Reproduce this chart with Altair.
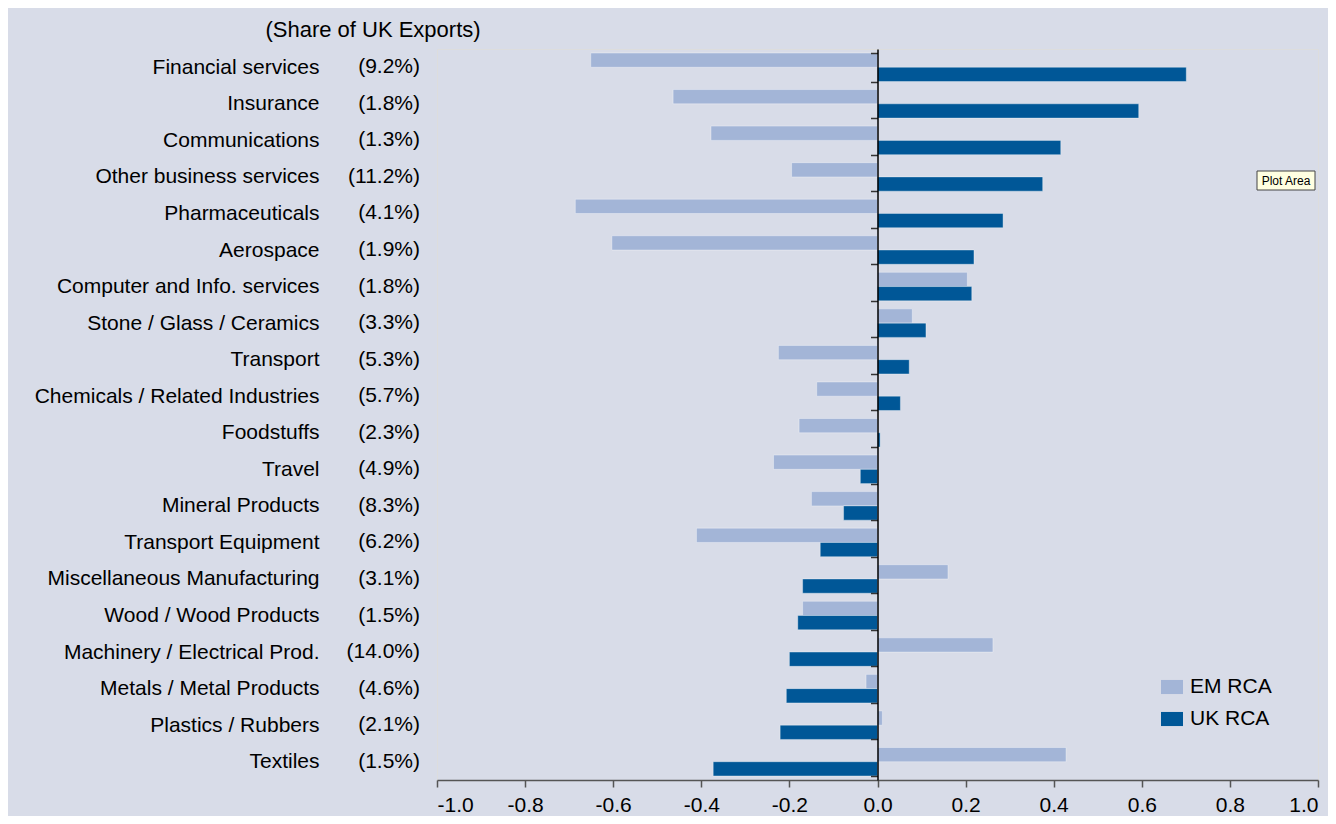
import altair as alt
import pandas as pd

categories = [
    "Financial services", "Insurance", "Communications", "Other business services",
    "Pharmaceuticals", "Aerospace", "Computer and Info. services",
    "Stone / Glass / Ceramics", "Transport", "Chemicals / Related Industries",
    "Foodstuffs", "Travel", "Mineral Products", "Transport Equipment",
    "Miscellaneous Manufacturing", "Wood / Wood Products",
    "Machinery / Electrical Prod.", "Metals / Metal Products",
    "Plastics / Rubbers", "Textiles",
]
shares = [
    "(9.2%)", "(1.8%)", "(1.3%)", "(11.2%)", "(4.1%)", "(1.9%)", "(1.8%)",
    "(3.3%)", "(5.3%)", "(5.7%)", "(2.3%)", "(4.9%)", "(8.3%)", "(6.2%)",
    "(3.1%)", "(1.5%)", "(14.0%)", "(4.6%)", "(2.1%)", "(1.5%)",
]
em_rca = [
    -0.651, -0.464, -0.378, -0.195, -0.686, -0.603, 0.204, 0.079, -0.225, -0.138,
    -0.178, -0.236, -0.150, -0.411, 0.160, -0.170, 0.262, -0.026, 0.011, 0.428,
]
uk_rca = [
    0.701, 0.593, 0.416, 0.375, 0.285, 0.219, 0.214, 0.110, 0.072, 0.052,
    0.006, -0.039, -0.077, -0.130, -0.170, -0.181, -0.200, -0.207, -0.221, -0.373,
]
series_names = ["EM RCA", "UK RCA"]
series_colors = ["#A3B5D7", "#005797"]
x_ticks = [-1.0, -0.8, -0.6, -0.4, -0.2, 0.0, 0.2, 0.4, 0.6, 0.8, 1.0]
header_text = ["(Share of UK Exports)"]
tooltip_text = ["Plot Area"]

rows = []
for c, s, e, u in zip(categories, shares, em_rca, uk_rca):
    rows.append({"category": c, "share": s, "series": series_names[0], "value": e})
    rows.append({"category": c, "share": s, "series": series_names[1], "value": u})
df = pd.DataFrame(rows)

FONT = "Liberation Sans"
W, H = 881, 731

y_scale = alt.Scale(paddingInner=0.22, paddingOuter=0.11)
y_axis = alt.Axis(
    title=None, offset=-440.5, domainColor="black", domainWidth=1.5,
    tickBand="extent", tickSize=7, tickColor="#333333", tickWidth=1.5,
    labelPadding=551.5, labelLimit=0, labelFontSize=21, labelColor="black",
    labelFont=FONT, zindex=2,
)

bars = alt.Chart(df).mark_bar(strokeWidth=1, strokeOpacity=0.35, stroke="#FFFFFF").encode(
    x=alt.X(
        "value:Q",
        scale=alt.Scale(domain=[-1, 1], nice=False),
        axis=alt.Axis(
            values=x_ticks, grid=False, title=None, tickSize=7,
            domainColor="#555555", tickColor="#555555", domainWidth=1.5, tickWidth=1.5,
            labelFontSize=21, labelColor="black", labelPadding=7, labelFont=FONT,
            labelExpr="(datum.value < 0 ? '-' : '') + format(abs(datum.value), '.1f')",
            zindex=1,
        ),
    ),
    y=alt.Y("category:N", sort=categories, scale=y_scale, axis=y_axis),
    yOffset=alt.YOffset("series:N", sort=series_names,
                        scale=alt.Scale(paddingInner=0, paddingOuter=0)),
    color=alt.Color(
        "series:N", sort=series_names,
        scale=alt.Scale(domain=series_names, range=series_colors),
        legend=alt.Legend(
            title=None, orient="none", legendX=724, legendY=627,
            symbolType="M-1,-0.64H1V0.64H-1Z", symbolSize=484, symbolStrokeWidth=0,
            labelFontSize=21, labelColor="black", labelFont=FONT, labelOffset=7,
            rowPadding=11,
        ),
    ),
)

share_text = alt.Chart(df[df["series"] == series_names[0]]).mark_text(
    align="right", baseline="middle", fontSize=21, font=FONT, color="black"
).encode(
    y=alt.Y("category:N", sort=categories, scale=y_scale, axis=y_axis),
    x=alt.value(-17),
    text="share:N",
)

header = alt.Chart(pd.DataFrame({"t": header_text})).mark_text(
    align="center", baseline="middle", fontSize=22, font=FONT, color="black"
).encode(x=alt.value(-64), y=alt.value(-19), text="t:N")

tip_box = alt.Chart(pd.DataFrame({"t": tooltip_text})).mark_rect(
    fill="#FFFFE1", stroke="#444444", strokeWidth=1
).encode(x=alt.value(820), x2=alt.value(878), y=alt.value(122), y2=alt.value(141))

tip_text = alt.Chart(pd.DataFrame({"t": tooltip_text})).mark_text(
    align="center", baseline="middle", fontSize=12, font=FONT, color="black"
).encode(x=alt.value(849), y=alt.value(132), text="t:N")

chart = alt.layer(bars, share_text, header, tip_box, tip_text).properties(
    width=W, height=H,
    autosize=alt.AutoSizeParams(type="none"),
    padding={"left": 429, "top": 41, "right": 10, "bottom": 36},
    background="#D8DCE8",
).configure_view(stroke=None).configure(font=FONT)

chart.save("out.html", embed_options={"renderer": "svg", "actions": False})
